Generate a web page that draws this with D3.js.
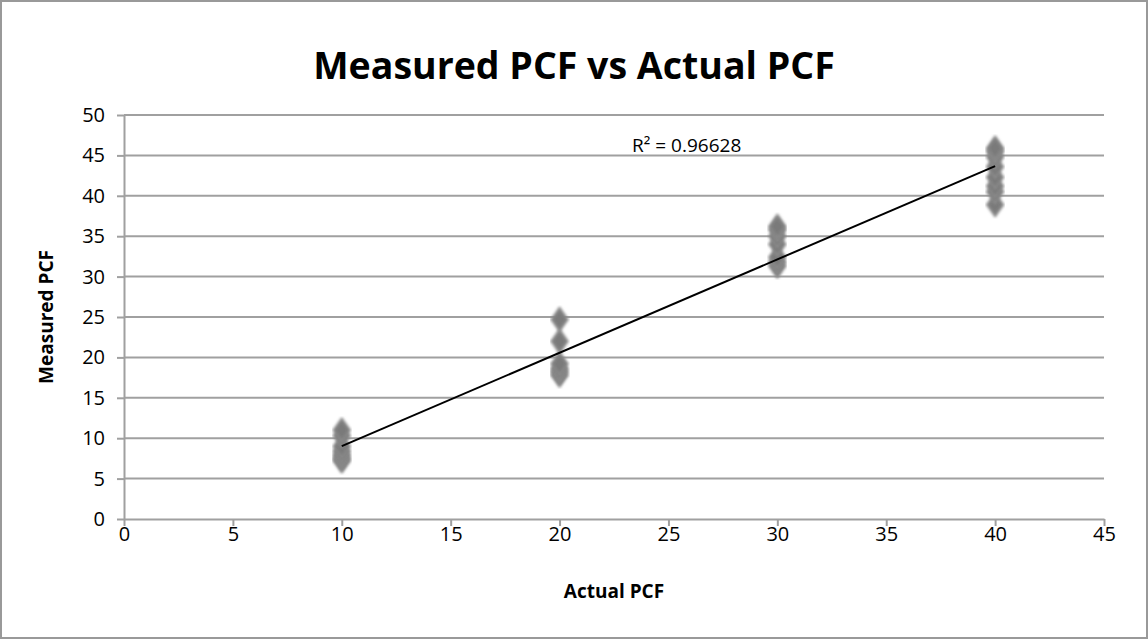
<!DOCTYPE html>
<html>
<head>
<meta charset="utf-8">
<script src="https://cdn.jsdelivr.net/npm/d3@7"></script>
<style>
  body { margin: 0; background: #fff; }
  text { font-family: "Open Sans", "Liberation Sans", sans-serif; fill: #000; }
</style>
</head>
<body>
<svg id="chart" width="1148" height="640"></svg>
<script>
// data
let actual10 = [7.2, 7.5, 7.9, 8.4, 9.0, 10.3, 11.0];
let actual20 = [17.8, 18.2, 18.6, 19.2, 22.0, 24.7];
let actual30 = [31.3, 31.8, 32.4, 34.0, 35.0, 35.8, 36.2];
let actual40 = [38.9, 40.5, 41.2, 42.3, 43.6, 44.8, 45.5, 45.9];
let groups = [10, 20, 30, 40];
let xTicks = [0, 5, 10, 15, 20, 25, 30, 35, 40, 45];
let yTicks = [0, 5, 10, 15, 20, 25, 30, 35, 40, 45, 50];
let r2Label = "R² = 0.96628";

let points = [];
[actual10, actual20, actual30, actual40].forEach(function(vals, i) {
  vals.forEach(function(v) { points.push({x: groups[i], y: v}); });
});

let svg = d3.select("#chart");
let plotLeft = 124, plotRight = 1104, plotTop = 115, plotBottom = 519;

let xScale = d3.scaleLinear().domain([0, 45]).range([plotLeft, plotRight]);
let yScale = d3.scaleLinear().domain([0, 50]).range([plotBottom, plotTop]);

// outer frame
svg.append("rect")
  .attr("x", 1).attr("y", 1)
  .attr("width", 1146).attr("height", 637)
  .attr("fill", "#fff")
  .attr("stroke", "#999")
  .attr("stroke-width", 2);

// gridlines
svg.append("g")
  .selectAll("line")
  .data(yTicks.slice(1))
  .enter()
  .append("line")
  .attr("x1", plotLeft).attr("x2", plotRight)
  .attr("y1", function(d) { return yScale(d); })
  .attr("y2", function(d) { return yScale(d); })
  .attr("stroke", "#a0a0a0")
  .attr("stroke-width", 2);

let yAxis = d3.axisLeft(yScale).tickValues(yTicks).tickSize(7).tickSizeOuter(0);
let xAxis = d3.axisBottom(xScale).tickValues(xTicks).tickSize(7).tickSizeOuter(0);

let gy = svg.append("g")
  .attr("transform", "translate(" + plotLeft + ",0)")
  .call(yAxis);
let gx = svg.append("g")
  .attr("transform", "translate(0," + plotBottom + ")")
  .call(xAxis);

[gx, gy].forEach(function(g) {
  g.attr("font-size", 20).attr("font-family", null);
  g.select(".domain").attr("stroke", "#a0a0a0").attr("stroke-width", 2);
  g.selectAll(".tick line").attr("stroke", "#a0a0a0").attr("stroke-width", 2);
  g.selectAll(".tick text").attr("fill", "#000");
});
gy.selectAll(".tick text").attr("x", -19);
gx.selectAll(".tick text").attr("y", 8);

// markers
let blur = svg.append("defs").append("filter").attr("id", "soft");
blur.append("feGaussianBlur").attr("stdDeviation", 1.2);

let diamond = d3.symbol().type(d3.symbolDiamond).size(150);
svg.append("g")
  .selectAll("path")
  .data(points)
  .enter()
  .append("path")
  .attr("d", diamond)
  .attr("transform", function(d) {
    return "translate(" + xScale(d.x) + "," + yScale(d.y) + ") scale(1.2,1)";
  })
  .attr("fill", "#7a7a7a")
  .attr("stroke", "#8a8a8a")
  .attr("stroke-width", 2)
  .attr("filter", "url(#soft)");

// linear trendline
let mx = d3.mean(points, function(d) { return d.x; });
let my = d3.mean(points, function(d) { return d.y; });
let sxy = d3.sum(points, function(d) { return (d.x - mx) * (d.y - my); });
let sxx = d3.sum(points, function(d) { return (d.x - mx) * (d.x - mx); });
let slope = sxy / sxx, intercept = my - slope * mx;
let xExt = d3.extent(points, function(d) { return d.x; });

svg.append("line")
  .attr("x1", xScale(xExt[0])).attr("y1", yScale(slope * xExt[0] + intercept))
  .attr("x2", xScale(xExt[1])).attr("y2", yScale(slope * xExt[1] + intercept))
  .attr("stroke", "#000")
  .attr("stroke-width", 2);

svg.append("text")
  .attr("x", 632).attr("y", 152)
  .attr("font-size", 19)
  .text(r2Label);

// titles
svg.append("text")
  .attr("x", 574).attr("y", 79)
  .attr("text-anchor", "middle")
  .attr("font-size", 37.5)
  .attr("font-weight", "bold")
  .text("Measured PCF vs Actual PCF");

svg.append("text")
  .attr("x", 614).attr("y", 598)
  .attr("text-anchor", "middle")
  .attr("font-size", 19)
  .attr("font-weight", "bold")
  .text("Actual PCF");

svg.append("text")
  .attr("transform", "translate(53,317) rotate(-90)")
  .attr("text-anchor", "middle")
  .attr("font-size", 19)
  .attr("font-weight", "bold")
  .text("Measured PCF");
</script>
</body>
</html>
